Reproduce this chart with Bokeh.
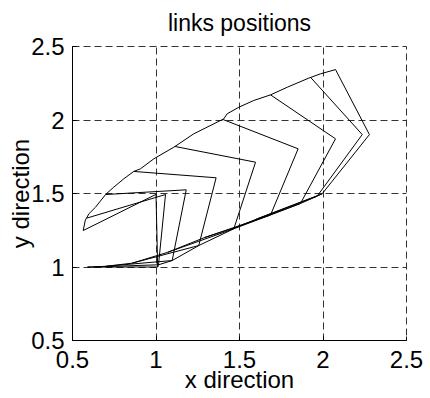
from bokeh.plotting import figure
from bokeh.models import Range1d, FixedTicker
from bokeh.embed import file_html
from bokeh.resources import INLINE

# joint positions for each snapshot (base, joint 1, joint 2, tip)
base_x = [0.59, 0.62, 0.70, 0.857, 1.07, 1.29, 1.48, 1.59, 1.61]
base_y = [1.0, 1.0, 1.005, 1.026, 1.10, 1.20, 1.27, 1.32, 1.33]
j1_x = [1.01, 1.015, 1.097, 1.256, 1.466, 1.686, 1.865, 1.965, 1.995]
j1_y = [1.0, 1.015, 1.044, 1.146, 1.260, 1.354, 1.432, 1.482, 1.498]
j2_x = [1.0, 1.057, 1.181, 1.36, 1.596, 1.851, 2.075, 2.235, 2.278]
j2_y = [1.494, 1.493, 1.525, 1.607, 1.713, 1.804, 1.872, 1.901, 1.901]
tip_x = [0.564, 0.584, 0.698, 0.867, 1.113, 1.402, 1.686, 1.925, 2.075]
tip_y = [1.248, 1.332, 1.493, 1.650, 1.820, 2.003, 2.171, 2.291, 2.343]

# traced tip path (upper curve)
tip_path_x = [0.564, 0.577, 0.584, 0.598, 0.638, 0.698, 0.747, 0.807, 0.867, 0.907,
              0.987, 1.107, 1.226, 1.406, 1.426, 1.496, 1.586, 1.686, 1.786, 1.915,
              1.985, 2.075]
tip_path_y = [1.248, 1.320, 1.332, 1.362, 1.407, 1.493, 1.543, 1.600, 1.650, 1.668,
              1.736, 1.815, 1.906, 2.008, 2.042, 2.087, 2.133, 2.171, 2.223, 2.285,
              2.314, 2.343]

x_ticks = [0.5, 1, 1.5, 2, 2.5]
y_ticks = [0.5, 1, 1.5, 2, 2.5]
FONT = "Liberation Sans"
FS = "24px"

p = figure(width=430, height=398, output_backend="svg", toolbar_location=None,
           x_range=Range1d(0.5, 2.5), y_range=Range1d(0.5, 2.5),
           title="links positions",
           min_border_left=72, min_border_right=24, min_border_top=46,
           min_border_bottom=58)
p.background_fill_color = "white"
p.border_fill_color = "white"
p.outline_line_color = "#333333"
p.outline_line_dash = "7 4"
p.outline_line_width = 1

p.title.align = "center"
p.title.vertical_align = "top"
p.title.text_font = FONT
p.title.text_font_size = "23px"
p.title.text_font_style = "normal"
p.title.text_color = "black"
p.title.standoff = 18

for ax, ticks, lab in ((p.xaxis[0], x_ticks, "x direction"), (p.yaxis[0], y_ticks, "y direction")):
    ax.ticker = FixedTicker(ticks=ticks)
    ax.minor_tick_line_color = None
    ax.major_tick_in = 4
    ax.major_tick_out = 0
    ax.axis_line_color = "black"
    ax.major_tick_line_color = "black"
    ax.major_label_text_font = FONT
    ax.major_label_text_font_size = FS
    ax.major_label_text_color = "black"
    ax.axis_label = lab
    ax.axis_label_text_font = FONT
    ax.axis_label_text_font_size = FS
    ax.axis_label_text_font_style = "normal"
    ax.axis_label_text_color = "black"
p.xaxis.major_label_standoff = 10
p.yaxis.major_label_standoff = 8
p.xaxis.axis_label_standoff = -5
p.yaxis.axis_label_standoff = -6

for g in (p.xgrid[0], p.ygrid[0]):
    g.grid_line_color = "#333333"
    g.grid_line_dash = "7 4"
    g.grid_line_width = 1

xs = [[base_x[i], j1_x[i], j2_x[i], tip_x[i]] for i in range(len(base_x))]
ys = [[base_y[i], j1_y[i], j2_y[i], tip_y[i]] for i in range(len(base_y))]
p.multi_line(xs, ys, line_color="black", line_width=1)
p.line(tip_path_x, tip_path_y, line_color="black", line_width=1)
p.line(j1_x, j1_y, line_color="black", line_width=1)
p.line(base_x, base_y, line_color="black", line_width=1)

open("out.html", "w").write(file_html(p, INLINE))
